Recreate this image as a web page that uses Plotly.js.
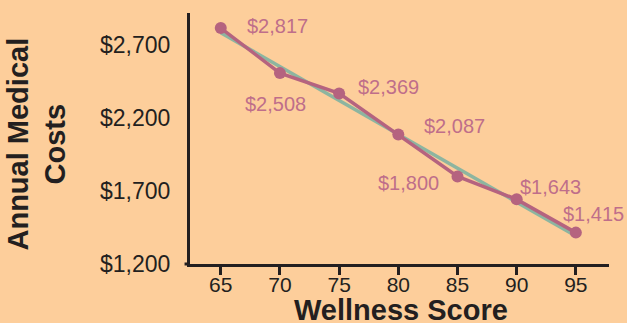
<!DOCTYPE html>
<html>
<head>
<meta charset="utf-8">
<script src="https://cdn.plot.ly/plotly-3.0.1.min.js"></script>
<style>
  html, body { margin: 0; padding: 0; background: #FDCE9B; }
  #chart { width: 627px; height: 323px; }
</style>
</head>
<body>
<div id="chart"></div>
<script>
// Data
const wellnessScores = [65, 70, 75, 80, 85, 90, 95];
const medicalCosts = [2817, 2508, 2369, 2087, 1800, 1643, 1415];
const costLabels = ["$2,817", "$2,508", "$2,369", "$2,087", "$1,800", "$1,643", "$1,415"];
const trendX = [65, 95];
const trendY = [2785, 1392];
const yTickValues = [1200, 1700, 2200, 2700];
const yTickLabels = ["$1,200", "$1,700", "$2,200", "$2,700"];
const xTickValues = [65, 70, 75, 80, 85, 90, 95];
const xTitle = "Wellness Score";
const yTitle = "Annual Medical<br>Costs";

// Label placement offsets (pixels) relative to each point
const labelShiftX = [57, -4, 49, 56, -49, 34, 18];
const labelShiftY = [2, -31, 6, 9, -7, 12, 19];

const FONT = "'Liberation Sans', Arial, Helvetica, sans-serif";
const INK = "#231f20";
const MAUVE = "#B5637F";
const LABEL = "#BF6E8A";
const TEAL = "#8DB5A0";
const BG = "#FDCE9B";

const traces = [
  {
    x: trendX, y: trendY, type: "scatter", mode: "lines",
    line: { color: TEAL, width: 3.5 }, hoverinfo: "skip", showlegend: false
  },
  {
    x: wellnessScores, y: medicalCosts, type: "scatter", mode: "lines+markers",
    line: { color: MAUVE, width: 3.5 },
    marker: { color: MAUVE, size: 12 },
    showlegend: false
  }
];

const annotations = wellnessScores.map((x, i) => ({
  x: x, y: medicalCosts[i], xref: "x", yref: "y",
  text: costLabels[i], showarrow: false,
  xshift: labelShiftX[i], yshift: labelShiftY[i],
  font: { family: FONT, size: 20, color: LABEL }
}));

annotations.push({
  xref: "paper", yref: "paper", x: 0.5, y: 0, xanchor: "center", yanchor: "middle",
  xshift: 1, yshift: -46, showarrow: false, text: xTitle,
  font: { family: FONT, size: 29, color: INK, weight: "bold" }
});
annotations.push({
  xref: "paper", yref: "paper", x: 0, y: 0.5, xanchor: "center", yanchor: "middle",
  xshift: -154, yshift: -6, showarrow: false, text: yTitle, textangle: -90,
  font: { family: FONT, size: 29, color: INK, weight: "bold" }
});

const layout = {
  width: 627, height: 323,
  paper_bgcolor: BG, plot_bgcolor: BG,
  margin: { l: 190, r: 18, t: 13, b: 59 },
  showlegend: false,
  xaxis: {
    range: [62.4, 97.8],
    tickvals: xTickValues,
    ticks: "outside", ticklen: 8, tickwidth: 3, tickcolor: INK,
    showticklabels: false,
    showline: true, linecolor: INK, linewidth: 3,
    showgrid: false, zeroline: false
  },
  xaxis2: {
    matches: "x", overlaying: "x", anchor: "y", side: "bottom",
    tickvals: xTickValues,
    ticks: "outside", ticklen: 2, tickcolor: "rgba(0,0,0,0)",
    showline: false, showgrid: false, zeroline: false,
    tickfont: { family: FONT, size: 21, color: INK }
  },
  yaxis: {
    range: [1200, 2920],
    tickvals: yTickValues, ticktext: yTickLabels,
    ticks: "", ticklabelstandoff: 12,
    showline: true, linecolor: INK, linewidth: 3,
    showgrid: false, zeroline: false,
    tickfont: { family: FONT, size: 23, color: INK }
  },
  shapes: [
    { type: "line", xref: "paper", yref: "paper", x0: -0.013, x1: 0, y0: 0, y1: 0,
      line: { color: INK, width: 3 } }
  ],
  annotations: annotations
};

// empty trace to activate the label axis
traces.push({ x: [], y: [], xaxis: "x2", yaxis: "y", type: "scatter", mode: "lines", showlegend: false, hoverinfo: "skip" });

Plotly.newPlot("chart", traces, layout, { staticPlot: true, displayModeBar: false });
</script>
</body>
</html>
